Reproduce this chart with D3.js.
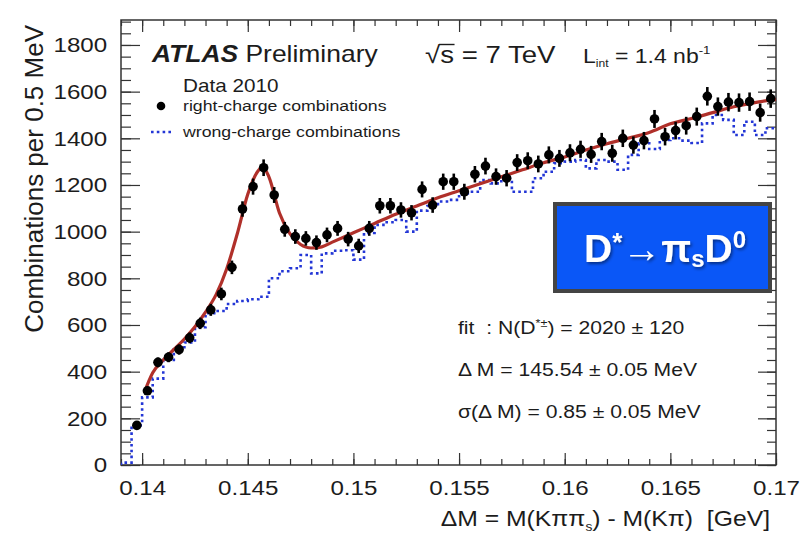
<!DOCTYPE html>
<html>
<head>
<meta charset="utf-8">
<script src="https://cdn.jsdelivr.net/npm/d3@7"></script>
<style>
  body { margin: 0; background: #fff; }
  svg { display: block; }
  text { font-family: "Liberation Sans", Arial, Helvetica, sans-serif; fill: #1c1c1c; white-space: pre; }
</style>
</head>
<body>
<svg id="chart" width="808" height="537"></svg>
<script>
// ΔM bin centres (GeV) of the right-charge sample, 0.5 MeV bins
const massBins = [
  0.13975,0.14025,0.14075,0.14125,0.14175,0.14225,0.14275,0.14325,0.14375,0.14425,
  0.14475,0.14525,0.14575,0.14625,0.14675,0.14725,0.14775,0.14825,0.14875,0.14925,
  0.14975,0.15025,0.15075,0.15125,0.15175,0.15225,0.15275,0.15325,0.15375,0.15425,
  0.15475,0.15525,0.15575,0.15625,0.15675,0.15725,0.15775,0.15825,0.15875,0.15925,
  0.15975,0.16025,0.16075,0.16125,0.16175,0.16225,0.16275,0.16325,0.16375,0.16425,
  0.16475,0.16525,0.16575,0.16625,0.16675,0.16725,0.16775,0.16825,0.16875,0.16925,
  0.16975
];
// Right-charge combinations per bin
const rightCharge = [
  170,318,440,462,495,545,607,665,733,847,
  1097,1193,1274,1157,1010,979,971,953,986,1014,
  968,939,1014,1111,1111,1093,1081,1181,1114,1214,
  1214,1171,1246,1281,1236,1229,1296,1304,1290,1329,
  1314,1338,1353,1331,1386,1336,1400,1371,1390,1483,
  1407,1433,1454,1493,1580,1536,1555,1553,1557,1510,
  1570
];
// Lower edges (GeV) of the wrong-charge histogram bins
const wrongEdges = [
  0.1390,0.1395,0.1400,0.1405,0.1410,0.1415,0.1420,0.1425,0.1430,0.1435,
  0.1440,0.1445,0.1450,0.1455,0.1460,0.1465,0.1470,0.1475,0.1480,0.1485,
  0.1490,0.1495,0.1500,0.1505,0.1510,0.1515,0.1520,0.1525,0.1530,0.1535,
  0.1540,0.1545,0.1550,0.1555,0.1560,0.1565,0.1570,0.1575,0.1580,0.1585,
  0.1590,0.1595,0.1600,0.1605,0.1610,0.1615,0.1620,0.1625,0.1630,0.1635,
  0.1640,0.1645,0.1650,0.1655,0.1660,0.1665,0.1670,0.1675,0.1680,0.1685,
  0.1690,0.1695
];
// Wrong-charge combinations per bin
const wrongCharge = [
  10,170,290,370,450,495,525,590,650,660,
  690,703,710,721,800,830,843,900,821,907,
  918,920,880,994,1029,1040,1050,1000,1090,1110,
  1129,1136,1164,1171,1221,1207,1229,1171,1171,1229,
  1257,1293,1300,1307,1271,1307,1300,1265,1329,1379,
  1354,1393,1400,1390,1380,1464,1500,1479,1414,1471,
  1414,1443
];
// Fitted signal + background curve
const fitMass = [
  0.1401,0.1405,0.1410,0.1415,0.1420,0.1425,0.1430,0.1435,0.1440,0.1445,
  0.1450,0.1455,0.1457,0.1460,0.1465,0.1470,0.1475,0.1480,0.1485,0.1490,
  0.1500,0.1510,0.1520,0.1530,0.1540,0.1550,0.1560,0.1570,0.1580,0.1590,
  0.1600,0.1610,0.1620,0.1630,0.1640,0.1650,0.1660,0.1670,0.1680,0.1690,
  0.1700
];
const fitCounts = [
  310,395,450,495,540,592,655,730,840,990,
  1160,1262,1278,1235,1080,990,945,930,935,955,
  995,1035,1075,1110,1145,1175,1205,1235,1265,1295,
  1320,1350,1377,1400,1425,1462,1485,1510,1535,1553,
  1567
];
const xTickValues = [0.14, 0.145, 0.15, 0.155, 0.16, 0.165, 0.17];
const xTickLabels = ["0.14", "0.145", "0.15", "0.155", "0.16", "0.165", "0.17"];
const yTickValues = [0, 200, 400, 600, 800, 1000, 1200, 1400, 1600, 1800];
const yTickLabels = ["0", "200", "400", "600", "800", "1000", "1200", "1400", "1600", "1800"];
const xDomain = [0.139, 0.17];
const yDomain = [0, 1907];

const SX = 1.15; // horizontal glyph stretch used for the plot lettering

const svg = d3.select("#chart");
const W = 808, H = 537;
const m = { left: 121, top: 20, right: 32, bottom: 72 };
const pw = W - m.left - m.right, ph = H - m.top - m.bottom;

const x = d3.scaleLinear().domain(xDomain).range([m.left, m.left + pw]);
const y = d3.scaleLinear().domain(yDomain).range([m.top + ph, m.top]);

const defs = svg.append("defs");
defs.append("clipPath").attr("id", "plotClip")
  .append("rect").attr("x", m.left).attr("y", m.top).attr("width", pw).attr("height", ph);
const shadow = defs.append("filter").attr("id", "txtShadow")
  .attr("x", "-10%").attr("y", "-20%").attr("width", "130%").attr("height", "150%");
shadow.append("feDropShadow").attr("dx", 1.5).attr("dy", 2).attr("stdDeviation", 1.4)
  .attr("flood-color", "#000").attr("flood-opacity", 0.45);

// ---- axes ----
const tickColor = "#333";
function styleAxis(g) {
  g.select(".domain").remove();
  g.selectAll(".tick line").attr("stroke", tickColor).attr("stroke-width", 1.2);
}
const xMinor = d3.range(1390, 1701, 10).map(v => v / 10000);
const yMinor = d3.range(0, 1901, 50);

// bottom
svg.append("g").attr("transform", `translate(0,${m.top + ph})`)
  .call(d3.axisBottom(x).tickValues(xMinor).tickSize(-6).tickFormat(""))
  .call(styleAxis);
const xAx = svg.append("g").attr("transform", `translate(0,${m.top + ph})`)
  .call(d3.axisBottom(x).tickValues(xTickValues).tickSize(-12).tickPadding(15)
    .tickFormat((d, i) => xTickLabels[i]))
  .call(styleAxis);
xAx.selectAll(".tick text").attr("font-size", 21).attr("fill", "#1c1c1c")
  .attr("font-family", '"Liberation Sans", Arial, sans-serif')
  .attr("transform", `scale(${SX},1)`);
// top
svg.append("g").attr("transform", `translate(0,${m.top})`)
  .call(d3.axisTop(x).tickValues(xMinor).tickSize(-6).tickFormat("")).call(styleAxis);
svg.append("g").attr("transform", `translate(0,${m.top})`)
  .call(d3.axisTop(x).tickValues(xTickValues).tickSize(-12).tickFormat("")).call(styleAxis);
// left
svg.append("g").attr("transform", `translate(${m.left},0)`)
  .call(d3.axisLeft(y).tickValues(yMinor).tickSize(-10).tickFormat("")).call(styleAxis);
const yAx = svg.append("g").attr("transform", `translate(${m.left},0)`)
  .call(d3.axisLeft(y).tickValues(yTickValues).tickSize(-19).tickPadding(12)
    .tickFormat((d, i) => yTickLabels[i]))
  .call(styleAxis);
yAx.selectAll(".tick text").attr("font-size", 21).attr("fill", "#1c1c1c")
  .attr("font-family", '"Liberation Sans", Arial, sans-serif')
  .attr("transform", `scale(${SX},1)`);
// right
svg.append("g").attr("transform", `translate(${m.left + pw},0)`)
  .call(d3.axisRight(y).tickValues(yMinor).tickSize(-9).tickFormat("")).call(styleAxis);
svg.append("g").attr("transform", `translate(${m.left + pw},0)`)
  .call(d3.axisRight(y).tickValues(yTickValues).tickSize(-18).tickFormat("")).call(styleAxis);

// frame
svg.append("rect").attr("x", m.left).attr("y", m.top).attr("width", pw).attr("height", ph)
  .attr("fill", "none").attr("stroke", "#333").attr("stroke-width", 1.5);

// ---- wrong-charge histogram (dotted steps) ----
const plot = svg.append("g").attr("clip-path", "url(#plotClip)");
const stepPts = [[wrongEdges[0], 0]]
  .concat(wrongEdges.map((e, i) => [e, wrongCharge[i]]))
  .concat([[xDomain[1], wrongCharge[wrongCharge.length - 1]]]);
plot.append("path")
  .attr("d", d3.line().x(d => x(d[0])).y(d => y(d[1])).curve(d3.curveStepAfter)(stepPts))
  .attr("fill", "none").attr("stroke", "#2336d6").attr("stroke-width", 2.6)
  .attr("stroke-dasharray", "2.6,3.2");

// ---- fit curve ----
plot.append("path")
  .attr("d", d3.line().x((d, i) => x(fitMass[i])).y(d => y(d)).curve(d3.curveMonotoneX)(fitCounts))
  .attr("fill", "none").attr("stroke", "#b0302a").attr("stroke-width", 3.2)
  .attr("stroke-linejoin", "round");

// ---- right-charge data points with statistical error bars ----
const pts = plot.append("g").selectAll("g").data(rightCharge).join("g")
  .attr("transform", (d, i) => `translate(${x(massBins[i])},0)`);
pts.append("line")
  .attr("y1", d => y(d + Math.sqrt(d))).attr("y2", d => y(d - Math.sqrt(d)))
  .attr("stroke", "#000").attr("stroke-width", 2.6);
pts.append("circle").attr("cy", d => y(d)).attr("r", 4.8).attr("fill", "#000");

// ---- text helpers ----
function label(px, py, size, anchor) {
  return svg.append("text")
    .attr("transform", `translate(${px},${py}) scale(${SX},1)`)
    .attr("font-size", size).attr("text-anchor", anchor || "start");
}

// ATLAS Preliminary
const atl = label(152, 62, 23);
atl.append("tspan").text("ATLAS").attr("font-weight", "bold").attr("font-style", "italic");
atl.append("tspan").text(" Preliminary");

// sqrt(s) and luminosity
const rs = label(425, 63, 24);
rs.append("tspan").text("\u221A");
rs.append("tspan").text("s");
rs.append("tspan").text(" = 7 TeV");
{
  const b0 = rs.node().getExtentOfChar(1);
  svg.append("line")
    .attr("transform", `translate(425,63) scale(${SX},1)`)
    .attr("x1", b0.x - 1).attr("x2", b0.x + b0.width + 0.5)
    .attr("y1", -18.5).attr("y2", -18.5)
    .attr("stroke", "#1c1c1c").attr("stroke-width", 1.4);
}
const lum = label(583, 63, 20);
lum.append("tspan").text("L");
lum.append("tspan").text("int").attr("font-size", 10.5).attr("dy", 4);
lum.append("tspan").text(" = 1.4 nb").attr("dy", -4);
lum.append("tspan").text("-1").attr("font-size", 11.5).attr("dy", -9);

// Legend
label(183, 92, 18).text("Data 2010");
svg.append("circle").attr("cx", 161).attr("cy", 106).attr("r", 4.3).attr("fill", "#000");
label(183, 111, 15.4).text("right-charge combinations");
svg.append("line").attr("x1", 151).attr("x2", 172).attr("y1", 132).attr("y2", 132)
  .attr("stroke", "#2336d6").attr("stroke-width", 2.6).attr("stroke-dasharray", "2.6,3.2");
label(183, 137, 15.4).text("wrong-charge combinations");

// Fit results
const f1 = label(458, 334, 18.4);
f1.append("tspan").text("fit  : N(D");
f1.append("tspan").text("*\u00B1").attr("font-size", 11).attr("dy", -7);
f1.append("tspan").text(") = 2020 \u00B1 120").attr("dy", 7);
label(458, 376, 18.4).text("\u0394 M = 145.54 \u00B1 0.05 MeV");
label(458, 418, 18.4).text("\u03C3(\u0394 M) = 0.85 \u00B1 0.05 MeV");

// Decay channel box
svg.append("rect").attr("x", 555).attr("y", 204).attr("width", 215).attr("height", 87)
  .attr("fill", "#0a57f7").attr("stroke", "#444").attr("stroke-width", 4);
const dk = svg.append("text").attr("x", 665).attr("y", 262).attr("text-anchor", "middle")
  .attr("font-family", "Lato, 'Open Sans', sans-serif").attr("font-weight", "bold")
  .attr("font-size", 39).attr("filter", "url(#txtShadow)")
  .style("fill", "#fff");
dk.append("tspan").text("D");
dk.append("tspan").text("*").attr("font-size", 26).attr("dy", -11);
dk.append("tspan").text("\u2192").attr("dy", 11);
dk.append("tspan").text("\u03C0");
dk.append("tspan").text("s").attr("font-size", 24).attr("dy", 5);
dk.append("tspan").text("D").attr("dy", -5);
dk.append("tspan").text("0").attr("font-size", 24).attr("dy", -14);

// Axis titles
const xt = label(770, 526, 21.5, "end");
xt.append("tspan").text("\u0394M = M(K\u03C0\u03C0");
xt.append("tspan").text("s").attr("font-size", 12).attr("dy", 5);
xt.append("tspan").text(") - M(K\u03C0)  [GeV]").attr("dy", -5);

svg.append("text")
  .attr("transform", "translate(43,25) rotate(-90)")
  .attr("text-anchor", "end").attr("font-size", 26)
  .text("Combinations per 0.5 MeV");
</script>
</body>
</html>
